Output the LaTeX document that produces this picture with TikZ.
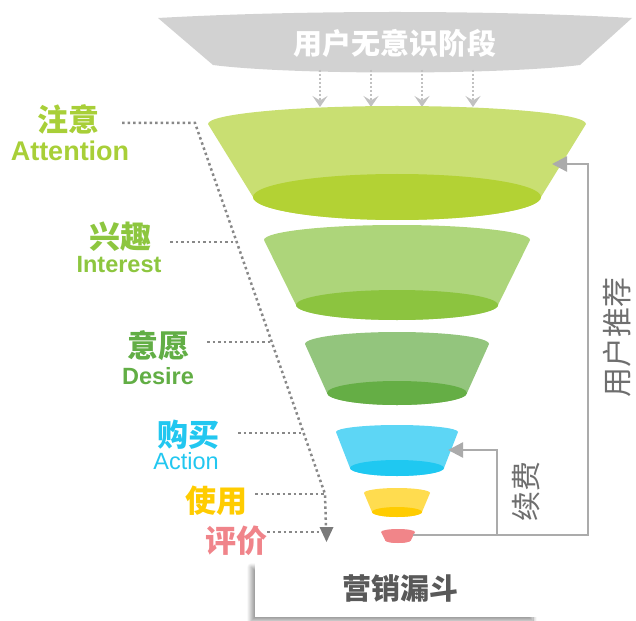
\documentclass[tikz,border=0pt]{standalone}
\usepackage{fontspec}
\setmainfont{Liberation Sans}
\newfontfamily\cjk{Noto Sans CJK SC}
\newfontfamily\lat{Liberation Sans}
\usetikzlibrary{arrows.meta,shadows.blur}
\definecolor{titlegray}{HTML}{D2D2D2}
\definecolor{cAtt}{HTML}{A8CF38}
\definecolor{cInt}{HTML}{8DC63F}
\definecolor{cDes}{HTML}{62AE45}
\definecolor{cAct}{HTML}{22C7F0}
\definecolor{cUse}{HTML}{FFCC00}
\definecolor{cEva}{HTML}{F0848A}
\definecolor{bAtt}{HTML}{C9DF72}
\definecolor{dAtt}{HTML}{B3D234}
\definecolor{bInt}{HTML}{ADD57A}
\definecolor{dInt}{HTML}{8CC43F}
\definecolor{bDes}{HTML}{93C57D}
\definecolor{dDes}{HTML}{65AE45}
\definecolor{bAct}{HTML}{5DD6F5}
\definecolor{dAct}{HTML}{1FC8F1}
\definecolor{bUse}{HTML}{FFDC4F}
\definecolor{dUse}{HTML}{FFCC00}
\definecolor{bEva}{HTML}{F18589}
\definecolor{fbgray}{HTML}{ABABAB}
\definecolor{dotgray}{HTML}{888888}
\definecolor{txtgray}{HTML}{595959}
\definecolor{sidegray}{HTML}{6E6E6E}
\newcommand\myfunnel[9]{%
  \fill[#8] (#1-#3,#2) arc[start angle=180,end angle=0,x radius=#3pt,y radius=#4pt]
    -- (#1+#6,#5) arc[start angle=0,end angle=-180,x radius=#6pt,y radius=#7pt] -- cycle;
  \fill[#9] (#1,#5) ellipse[x radius=#6pt,y radius=#7pt];}
\tikzset{
  cjkbig/.style={font=\cjk\bfseries\fontsize{31}{31}\selectfont, inner sep=0pt},
  latbig/.style={font=\lat\bfseries\fontsize{27}{27}\selectfont, inner sep=0pt},
  latmid/.style={font=\lat\bfseries\fontsize{23.5}{23.5}\selectfont, inner sep=0pt},
  latreg/.style={font=\lat\fontsize{23.5}{23.5}\selectfont, inner sep=0pt},
  dotline/.style={draw=dotgray, line width=2.5pt, dash pattern=on 2.5pt off 3pt},
  titlearrow/.style={draw=titlegray!80!gray, line width=2.5pt, dash pattern=on 2pt off 2pt,
     -{Stealth[length=11pt,width=15pt,inset=4.5pt]}},
  fbline/.style={draw=fbgray, line width=2.4pt},
  fbarrow/.style={fbline, -{Triangle[length=15pt,width=15pt]}},
}
\begin{document}
\begin{tikzpicture}[x=1pt,y=-1pt]
\useasboundingbox (0,0) rectangle (636,620);
% title shape
\fill[titlegray] (158,18) .. controls (300,10) and (490,10) .. (632,18)
   -- (580,65) .. controls (500,75) and (290,75) .. (213,65) -- cycle;
\node[font=\cjk\bfseries\fontsize{29}{29}\selectfont, text=white, inner sep=0pt] (title) at (395,43) {用户无意识阶段};
\foreach \x [count=\i] in {320,371,422,473}{
  \coordinate (ta\i) at (\x,70);
  \coordinate (tb\i) at (\x,107);
  \draw[titlearrow] (ta\i) -- (tb\i);
}
% funnels
\myfunnel{397}{124}{189}{18}{197}{144}{23}{bAtt}{dAtt}
\myfunnel{397}{240}{133}{15}{305}{101}{15}{bInt}{dInt}
\myfunnel{397}{344}{92}{12}{393}{70}{12}{bDes}{dDes}
\myfunnel{397}{432}{61}{7}{468}{47}{8}{bAct}{dAct}
\myfunnel{397}{493}{33}{5}{512}{25}{5}{bUse}{dUse}
\myfunnel{398}{532}{17}{3}{540}{13}{3}{bEva}{bEva}
% labels
\node[cjkbig, text=cAtt] (l1) at (68,119) {注意};
\node[latbig, text=cAtt] (e1) at (70,151) {Attention};
\node[cjkbig, text=cInt] (l2) at (120,237) {兴趣};
\node[latmid, text=cInt] (e2) at (119,265) {Interest};
\node[cjkbig, text=cDes] (l3) at (158,346) {意愿};
\node[latmid, text=cDes] (e3) at (158,376) {Desire};
\node[cjkbig, text=cAct] (l4) at (188,435) {购买};
\node[latreg, text=cAct] (e4) at (186,461) {Action};
\node[cjkbig, text=cUse] (l5) at (216,501) {使用};
\node[cjkbig, text=cEva] (l6) at (236,541) {评价};
% dotted connectors
\coordinate (s1) at (122,123);
\coordinate (d0) at (195,123);
\coordinate (s2) at (170,242);
\coordinate (d2) at (236.7,242);
\coordinate (s3) at (207,342);
\coordinate (d3) at (271.7,342);
\coordinate (s4) at (238,433);
\coordinate (d4) at (303.6,433);
\coordinate (s5) at (255,494);
\coordinate (d5) at (325,494);
\coordinate (s6) at (267,532);
\coordinate (d6) at (319,532);
\coordinate (dend) at (326,528);
\draw[dotline] (s1) -- (d0) -- (d5) -- (dend);
\fill[dotgray!90!black] (319.5,527) -- (333.5,527) -- (326.5,542) -- cycle;
\draw[dotline] (s2) -- (d2);
\draw[dotline] (s3) -- (d3);
\draw[dotline] (s4) -- (d4);
\draw[dotline] (s5) -- (d5);
\draw[dotline] (s6) -- (d6);
% feedback
\coordinate (pinkR) at (413,535);
\coordinate (cyanR) at (448,450);
\coordinate (attR) at (552,164);
\coordinate (c1) at (588,535);
\coordinate (c2) at (497,535);
\draw[fbarrow] (pinkR) -- (c1) |- (attR);
\draw[fbarrow] (c2) |- (cyanR);
\node[font=\cjk\fontsize{30}{30}\selectfont, text=sidegray, rotate=90, inner sep=0pt] (xf) at (526,491) {续费};
\node[font=\cjk\fontsize{30}{30}\selectfont, text=sidegray, rotate=90, inner sep=0pt] (tj) at (617,337) {用户推荐};
% bottom box
\node[fill=white, minimum width=282pt, minimum height=54pt, inner sep=0pt,
  blur shadow={shadow xshift=-4pt, shadow yshift=-4pt, shadow blur steps=12, shadow blur radius=4pt, shadow opacity=40}] (box) at (396,590) {};
\node[font=\cjk\bfseries\fontsize{29}{29}\selectfont, text=txtgray, inner sep=0pt] (boxt) at (400,588) {营销漏斗};
\end{tikzpicture}
\end{document}
